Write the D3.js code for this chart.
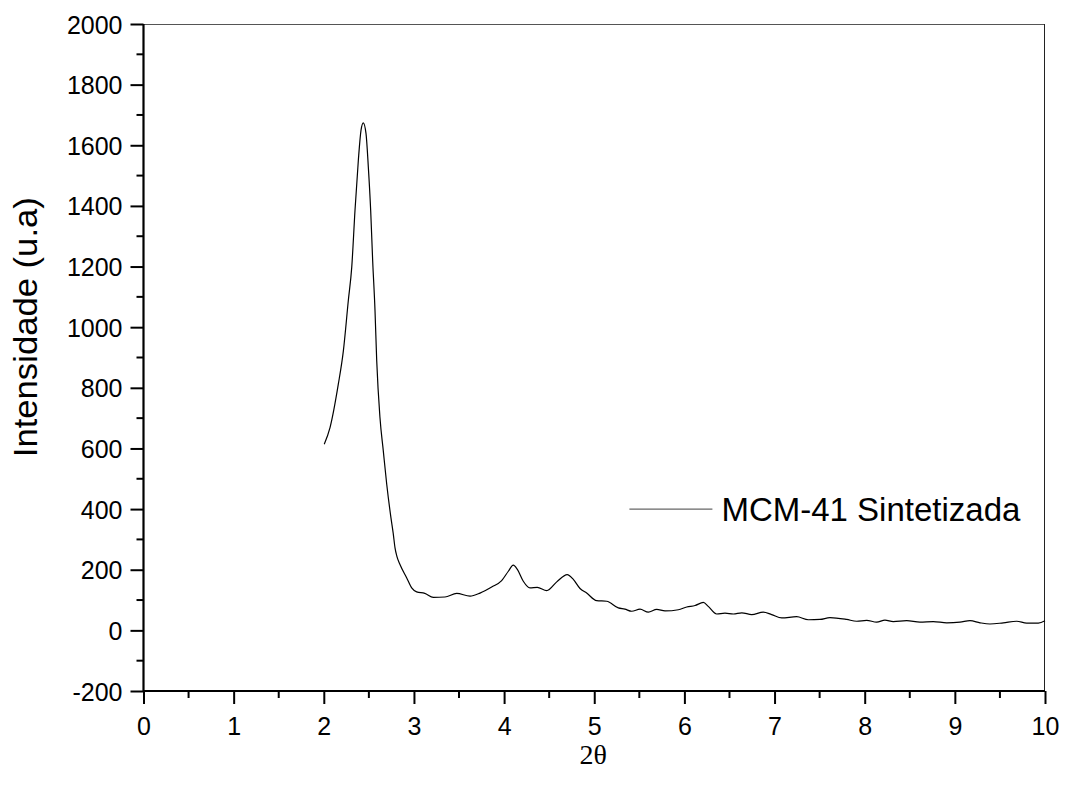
<!DOCTYPE html>
<html>
<head>
<meta charset="utf-8">
<script src="https://cdn.jsdelivr.net/npm/d3@7"></script>
<style>
  body { margin: 0; background: #fff; }
  svg { display: block; }
  .tick text { font-family: "Liberation Sans", Arial, sans-serif; font-size: 25px; fill: #000; }
</style>
</head>
<body>
<div id="chart"></div>
<script>
// 2θ (degrees) and intensity
const twoTheta = [
  2.005, 2.069, 2.161, 2.217, 2.272, 2.31, 2.346, 2.383, 2.413, 2.438,
  2.468, 2.494, 2.52, 2.542, 2.568, 2.587, 2.623, 2.66, 2.698, 2.745,
  2.77, 2.79, 2.81, 2.845, 2.92, 2.975, 3.03, 3.12, 3.215, 3.344,
  3.474, 3.622, 3.733, 3.862, 3.973, 4.047, 4.102, 4.147, 4.213, 4.287,
  4.368, 4.473, 4.584, 4.70, 4.768, 4.842, 4.916, 5.027, 5.138, 5.267,
  5.34, 5.415, 5.508, 5.6, 5.693, 5.785, 5.933, 6.026, 6.118, 6.21,
  6.265, 6.358, 6.45, 6.543, 6.636, 6.747, 6.875, 6.968, 7.08, 7.245,
  7.375, 7.504, 7.615, 7.8, 7.911, 8.022, 8.133, 8.225, 8.317, 8.466,
  8.613, 8.761, 8.91, 9.057, 9.168, 9.279, 9.39, 9.538, 9.686, 9.797,
  9.926, 10.0
]
const intensity = [
  614, 669, 812, 922, 1088, 1198, 1385, 1550, 1650, 1674,
  1639, 1528, 1385, 1220, 1055, 889, 702, 592, 482, 371,
  320, 272, 245, 217, 173, 140, 127, 122, 109, 110,
  122, 113, 123, 143, 164, 195, 215, 201, 162, 140,
  142, 131, 160, 184, 168, 138, 123, 98, 96, 74,
  70, 63, 70, 60, 69, 64, 68, 77, 82, 92,
  79, 54, 57, 54, 58, 52, 60, 52, 41, 45,
  35, 36, 42, 36, 30, 33, 27, 34, 29, 32,
  27, 29, 25, 27, 32, 25, 21, 25, 30, 24,
  24, 32
]
const xTicks = [0, 1, 2, 3, 4, 5, 6, 7, 8, 9, 10]
const yTicks = [-200, 0, 200, 400, 600, 800, 1000, 1200, 1400, 1600, 1800, 2000]
const seriesName = 'MCM-41 Sintetizada'

const W = 1072, H = 796
const margin = {top: 24, right: 27, bottom: 105, left: 143.5}
const width = W - margin.left - margin.right
const height = H - margin.top - margin.bottom

const svg = d3.select('#chart').append('svg')
  .attr('width', W).attr('height', H)

const g = svg.append('g')
  .attr('transform', 'translate(' + margin.left + ',' + margin.top + ')')

const x = d3.scaleLinear().domain([0, 10]).range([0, width])
const y = d3.scaleLinear().domain([-200, 2000]).range([height, 0])

// plain hyphen for negatives, like the original export
const fmt = d => String(d)

// thin frame on top and right
g.append('line').attr('x1', 0).attr('x2', width).attr('y1', 0.5).attr('y2', 0.5)
  .attr('stroke', '#555').attr('stroke-width', 1)
g.append('line').attr('x1', width - 0.5).attr('x2', width - 0.5).attr('y1', 0).attr('y2', height)
  .attr('stroke', '#222').attr('stroke-width', 1)

// minor ticks
const xMinor = d3.range(0.5, 10, 1)
const yMinor = d3.range(-100, 2000, 200)
g.append('g').selectAll('line').data(xMinor).join('line')
  .attr('x1', d => x(d)).attr('x2', d => x(d))
  .attr('y1', height).attr('y2', height + 7)
  .attr('stroke', '#000').attr('stroke-width', 2)
g.append('g').selectAll('line').data(yMinor).join('line')
  .attr('y1', d => y(d)).attr('y2', d => y(d))
  .attr('x1', 0).attr('x2', -7)
  .attr('stroke', '#000').attr('stroke-width', 2)

const xAxis = g.append('g')
  .attr('transform', 'translate(0,' + height + ')')
  .call(d3.axisBottom(x).tickValues(xTicks).tickFormat(fmt)
    .tickSize(13).tickPadding(13))
const yAxis = g.append('g')
  .call(d3.axisLeft(y).tickValues(yTicks).tickFormat(fmt)
    .tickSize(13).tickPadding(8))

;[xAxis, yAxis].forEach(a => {
  a.select('.domain').attr('stroke', '#000').attr('stroke-width', 2.2)
  a.selectAll('.tick line').attr('stroke', '#000').attr('stroke-width', 2)
})
xAxis.select('.domain').attr('d', 'M0,0H' + width)
yAxis.select('.domain').attr('d', 'M0,' + height + 'V0')
yAxis.selectAll('.tick text').attr('dy', '0.36em')

const pts = twoTheta.map((t, i) => ({x: t, y: intensity[i]}))
const line = d3.line()
  .x(d => x(d.x))
  .y(d => y(d.y))
  .curve(d3.curveMonotoneX)

g.append('path')
  .datum(pts)
  .attr('fill', 'none')
  .attr('stroke', '#000')
  .attr('stroke-width', 1.2)
  .attr('d', line)

// legend
const lg = g.append('g').attr('transform', 'translate(' + (x(5.39)) + ',' + y(400) + ')')
lg.append('line').attr('x1', 0).attr('x2', 83).attr('y1', 0).attr('y2', 0)
  .attr('stroke', '#666').attr('stroke-width', 1.2)
lg.append('text').attr('x', 92).attr('y', 0).attr('dy', '0.36em')
  .attr('font-family', '"Liberation Sans", Arial, sans-serif')
  .attr('font-size', 33)
  .text(seriesName)

// axis titles
svg.append('text')
  .attr('transform', 'translate(37,' + (margin.top + y(1000)) + ') rotate(-90)')
  .attr('text-anchor', 'middle')
  .attr('font-family', '"Liberation Sans", Arial, sans-serif')
  .attr('font-size', 33)
  .attr('textLength', 260)
  .attr('lengthAdjust', 'spacingAndGlyphs')
  .text('Intensidade (u.a)')

svg.append('text')
  .attr('x', margin.left + x(5) - 1)
  .attr('y', 764)
  .attr('text-anchor', 'middle')
  .attr('font-family', '"Liberation Serif", "Times New Roman", serif')
  .attr('font-size', 28)
  .text('2θ')
</script>
</body>
</html>
